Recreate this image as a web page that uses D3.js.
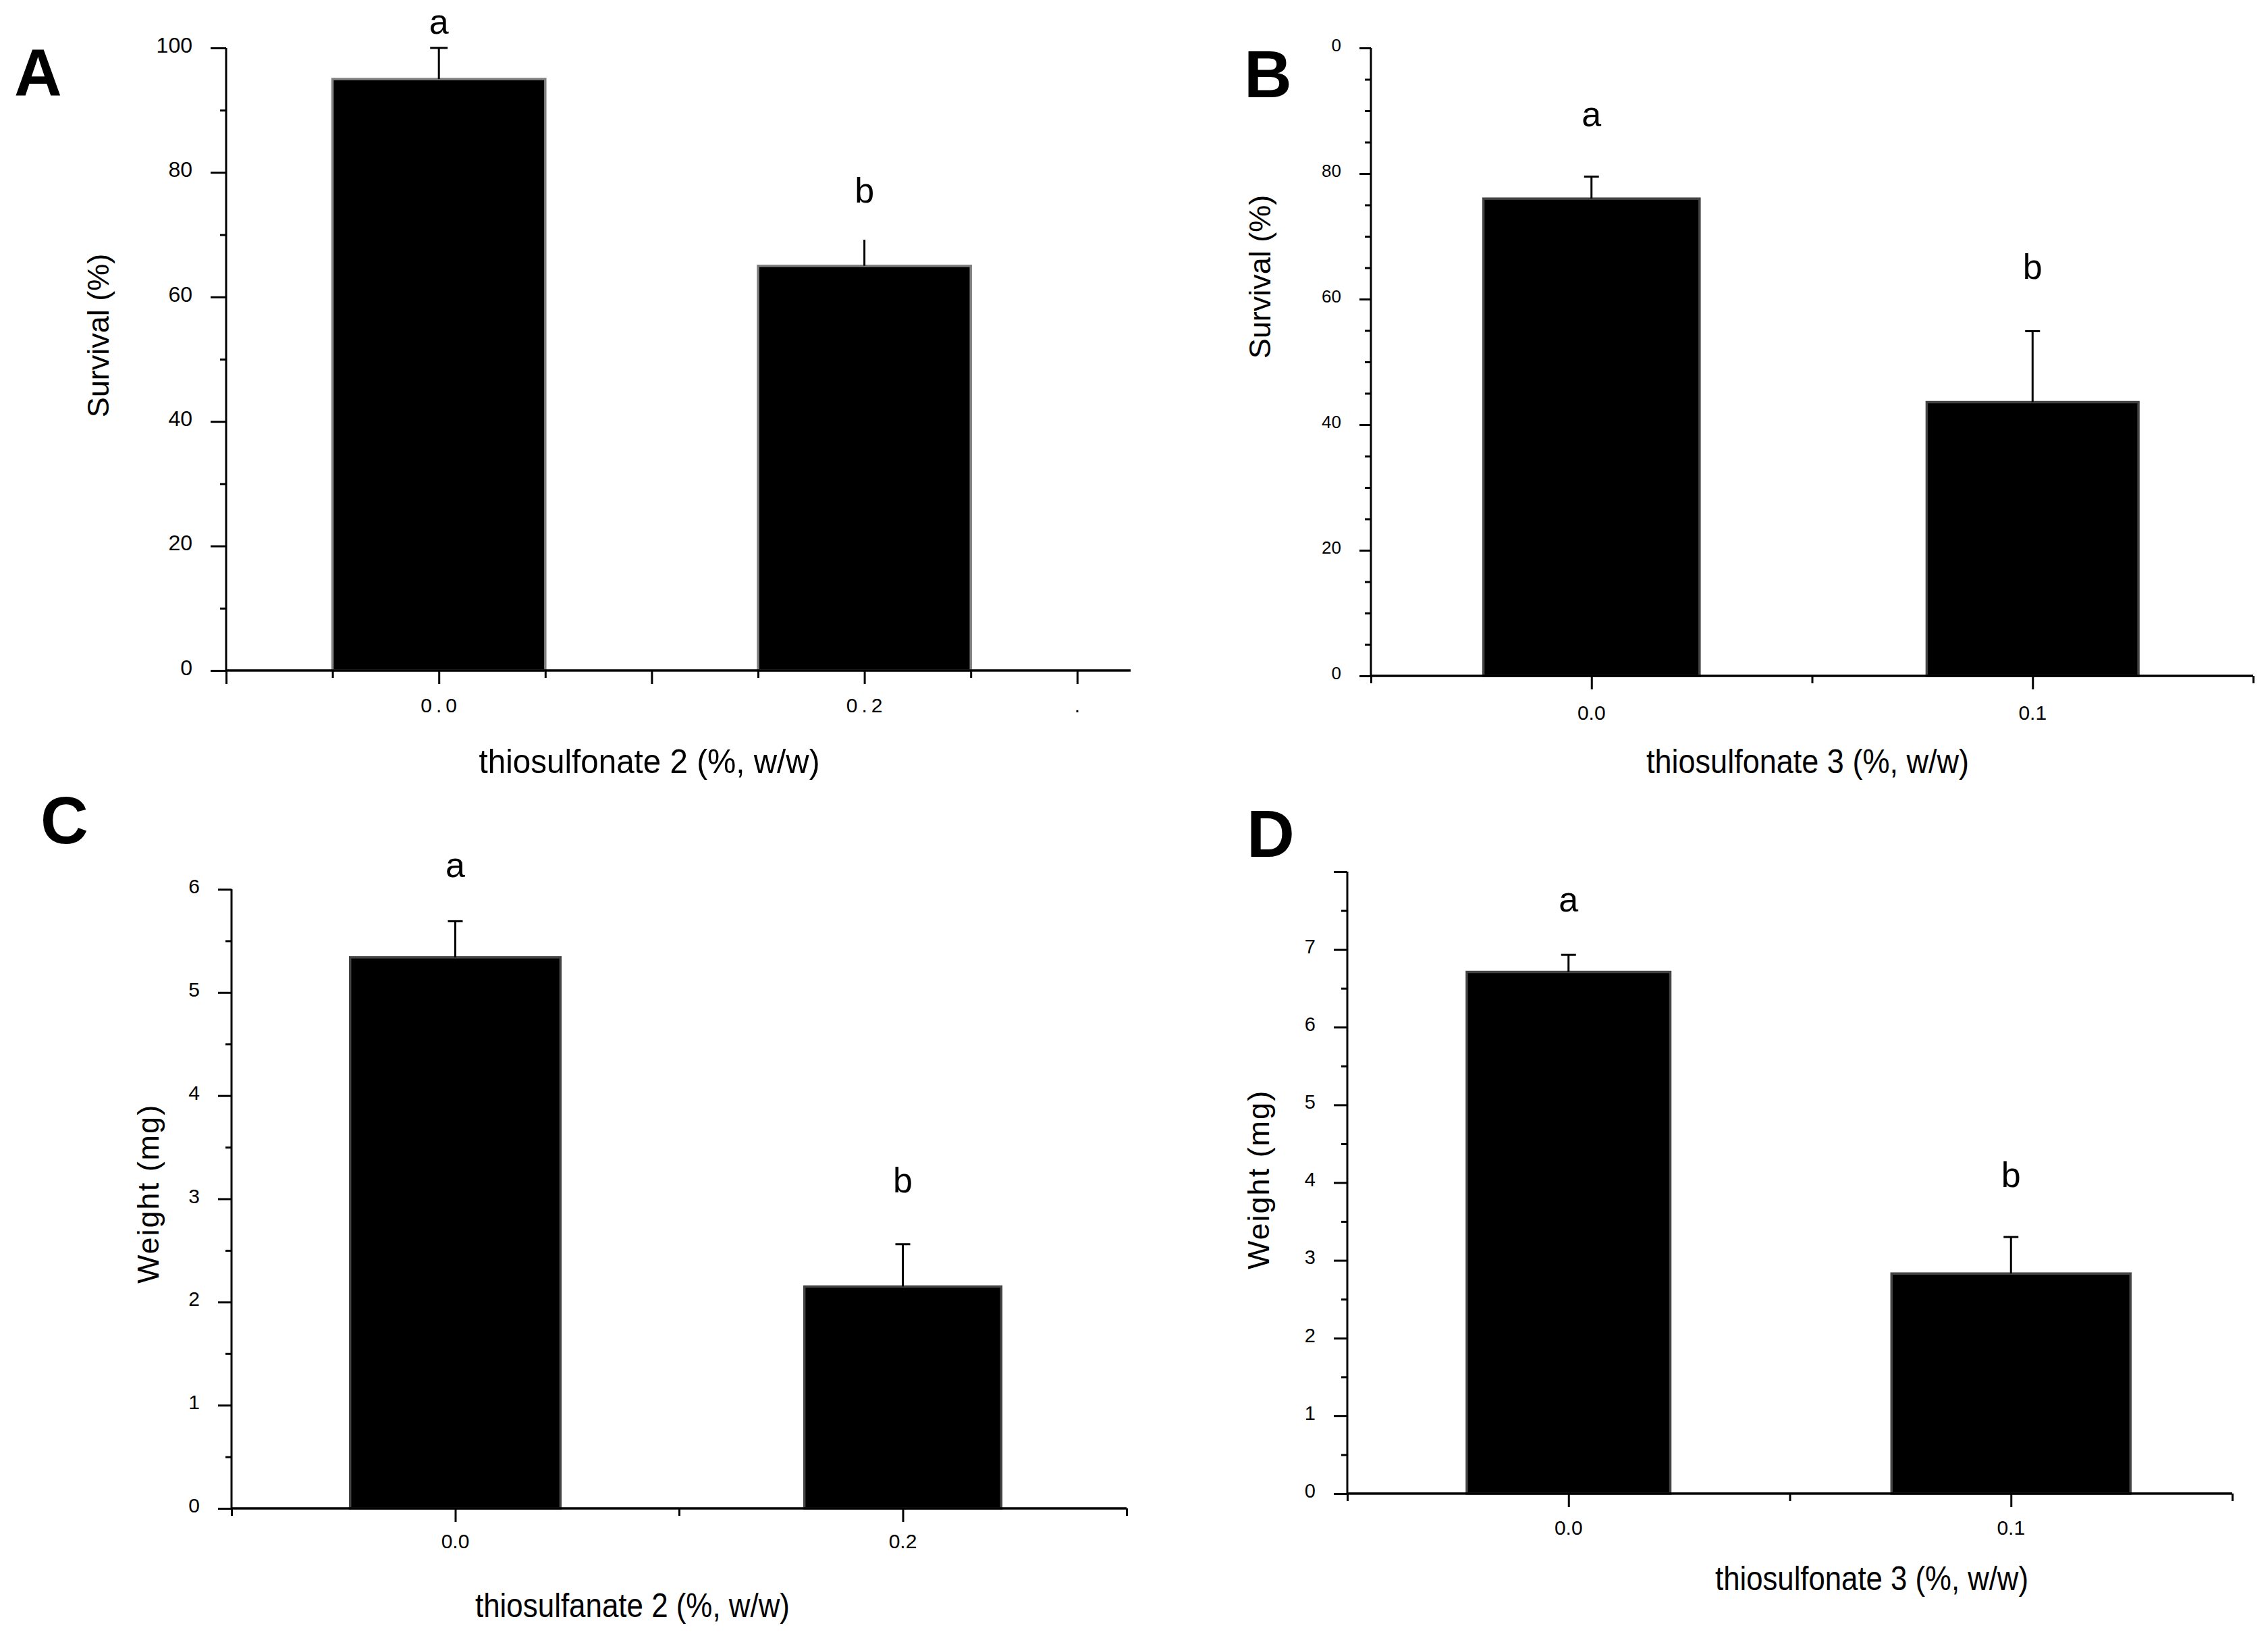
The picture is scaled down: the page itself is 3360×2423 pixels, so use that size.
<!DOCTYPE html>
<html><head><meta charset="utf-8">
<script src="https://cdn.jsdelivr.net/npm/d3@7"></script>
<style>body{margin:0;background:#fff}</style>
</head><body>
<svg id="c" width="3360" height="2423" xmlns="http://www.w3.org/2000/svg"></svg>
<script>
// ---------- data ----------
const categoriesA = ["0.0", "0.2"];
const survivalA = [95, 65];
const survivalErrA = [5, 4.2];
const lettersA = ["a", "b"];
const letterLevelA = [102.3, 75.2];
const yTicksA = [0, 20, 40, 60, 80, 100];
const yTickLabelsA = ["0", "20", "40", "60", "80", "100"];
const xTickLabelsA = ["0.0", "0.2", "."];

const categoriesB = ["0.0", "0.1"];
const survivalB = [76, 43.6];
const survivalErrB = [3.5, 11.3];
const lettersB = ["a", "b"];
const letterLevelB = [87.5, 63.2];
const yTicksB = [0, 20, 40, 60, 80, 100];
const yTickLabelsB = ["0", "20", "40", "60", "80", "0"];
const xTickLabelsB = ["0.0", "0.1"];

const categoriesC = ["0.0", "0.2"];
const weightC = [5.34, 2.15];
const weightErrC = [0.35, 0.41];
const lettersC = ["a", "b"];
const letterLevelC = [6.12, 3.06];
const yTicksC = [0, 1, 2, 3, 4, 5, 6];
const yTickLabelsC = ["0", "1", "2", "3", "4", "5", "6"];
const xTickLabelsC = ["0.0", "0.2"];

const categoriesD = ["0.0", "0.1"];
const weightD = [6.71, 2.83];
const weightErrD = [0.22, 0.47];
const lettersD = ["a", "b"];
const letterLevelD = [7.49, 3.94];
const yTicksD = [0, 1, 2, 3, 4, 5, 6, 7, 8];
const yTickLabelsD = ["0", "1", "2", "3", "4", "5", "6", "7", ""];
const xTickLabelsD = ["0.0", "0.1"];

// ---------- layout ----------
const SANS = "'Liberation Sans',Arial,sans-serif";
const svg = d3.select("#c");

const panels = [
  { tag: "A", tagX: 21, tagY: 141,
    cats: categoriesA, vals: survivalA, errs: survivalErrA, letters: lettersA, letterLv: letterLevelA,
    yTicks: yTicksA, yLabels: yTickLabelsA, minorStep: 10, domain: [0, 100],
    ax: 335, y0: 993, y1: 71, xEnd: 1675, slots: 8.5, slotPx: 157.6,
    catSlots: [2, 6], half: [1.0, 1.0], majorSlots: [0, 2, 4, 6, 8], minorSlots: [1, 3, 5, 7],
    xLabelSlots: [2, 6, 8], xLabels: xTickLabelsA, xLabelY: 1055, xLabelSpacing: 6,
    yTickFont: 32, yTickSize: 23, xTickFont: 30,
    barStroke: "#808080", capW: [26, 0],
    yTitle: "Survival (%)", yTitleX: 145, yTitleY: 497, yTitleSpacing: 0,
    xTitle: "thiosulfonate 2 (%, w/w)", xTitleX: 962, xTitleY: 1145, xTitleLen: 505 },
  { tag: "B", tagX: 1843, tagY: 144,
    cats: categoriesB, vals: survivalB, errs: survivalErrB, letters: lettersB, letterLv: letterLevelB,
    yTicks: yTicksB, yLabels: yTickLabelsB, minorStep: 5, domain: [0, 100],
    ax: 2031, y0: 1001, y1: 71, xEnd: 3338, slots: 4, slotPx: 326.75,
    catSlots: [1, 3], half: [0.49, 0.48], majorSlots: [1, 3], minorSlots: [0, 2, 4],
    xLabelSlots: [1, 3], xLabels: xTickLabelsB, xLabelY: 1066, xLabelSpacing: 0,
    yTickFont: 26, yTickSize: 17, xTickFont: 30,
    barStroke: "#444", capW: [22, 22],
    yTitle: "Survival (%)", yTitleX: 1866, yTitleY: 410, yTitleSpacing: 0,
    xTitle: "thiosulfonate 3 (%, w/w)", xTitleX: 2678, xTitleY: 1145, xTitleLen: 478 },
  { tag: "C", tagX: 60, tagY: 1249,
    cats: categoriesC, vals: weightC, errs: weightErrC, letters: lettersC, letterLv: letterLevelC,
    yTicks: yTicksC, yLabels: yTickLabelsC, minorStep: 0.5, domain: [0, 6],
    ax: 343, y0: 2234, y1: 1317, xEnd: 1669, slots: 4, slotPx: 331.5,
    catSlots: [1, 3], half: [0.47, 0.44], majorSlots: [1, 3], minorSlots: [0, 2, 4],
    xLabelSlots: [1, 3], xLabels: xTickLabelsC, xLabelY: 2293, xLabelSpacing: 0,
    yTickFont: 30, yTickSize: 20, xTickFont: 30,
    barStroke: "#444", capW: [22, 22],
    yTitle: "Weight (mg)", yTitleX: 219, yTitleY: 1768, yTitleSpacing: 2,
    xTitle: "thiosulfanate 2 (%, w/w)", xTitleX: 937, xTitleY: 2395, xTitleLen: 466 },
  { tag: "D", tagX: 1847, tagY: 1269,
    cats: categoriesD, vals: weightD, errs: weightErrD, letters: lettersD, letterLv: letterLevelD,
    yTicks: yTicksD, yLabels: yTickLabelsD, minorStep: 0.5, domain: [0, 8],
    ax: 1996, y0: 2212, y1: 1291, xEnd: 3307, slots: 4, slotPx: 327.75,
    catSlots: [1, 3], half: [0.46, 0.54], majorSlots: [1, 3], minorSlots: [0, 2, 4],
    xLabelSlots: [1, 3], xLabels: xTickLabelsD, xLabelY: 2273, xLabelSpacing: 0,
    yTickFont: 29, yTickSize: 20, xTickFont: 30,
    barStroke: "#444", capW: [22, 22],
    yTitle: "Weight (mg)", yTitleX: 1864, yTitleY: 1747, yTitleSpacing: 2,
    xTitle: "thiosulfonate 3 (%, w/w)", xTitleX: 2773, xTitleY: 2355, xTitleLen: 464 }
];

panels.forEach(p => {
  const g = svg.append("g");
  const y = d3.scaleLinear().domain(p.domain).range([p.y0, p.y1]);
  const x = d3.scaleLinear().domain([0, p.slots]).range([p.ax, p.ax + p.slots * p.slotPx]);

  // bars
  g.selectAll("rect.bar").data(p.vals).join("rect")
    .attr("x", (d, i) => x(p.catSlots[i] - p.half[i]))
    .attr("width", (d, i) => x(p.catSlots[i] + p.half[i]) - x(p.catSlots[i] - p.half[i]))
    .attr("y", d => y(d))
    .attr("height", d => y(0) - y(d))
    .attr("fill", "#000").attr("stroke", p.barStroke).attr("stroke-width", 3.5);

  // error bars + significance letters
  p.vals.forEach((v, i) => {
    const cx = x(p.catSlots[i]);
    g.append("line").attr("x1", cx).attr("x2", cx)
      .attr("y1", y(v)).attr("y2", y(v + p.errs[i]))
      .attr("stroke", "#000").attr("stroke-width", 3);
    if (p.capW[i] > 0) {
      g.append("line").attr("x1", cx - p.capW[i] / 2).attr("x2", cx + p.capW[i] / 2)
        .attr("y1", y(v + p.errs[i])).attr("y2", y(v + p.errs[i]))
        .attr("stroke", "#000").attr("stroke-width", 3);
    }
    g.append("text").attr("x", cx).attr("y", y(p.letterLv[i]))
      .attr("text-anchor", "middle").attr("font-family", SANS).attr("font-size", 52)
      .text(p.letters[i]);
  });

  // y axis (major)
  const yAxis = d3.axisLeft(y).tickValues(p.yTicks).tickSize(p.yTickSize).tickSizeOuter(0).tickPadding(27)
    .tickFormat((d, i) => p.yLabels[i]);
  const ya = g.append("g").attr("transform", `translate(${p.ax},0)`).call(yAxis);
  ya.select(".domain").attr("stroke-width", 3).attr("d", `M0,${p.y0}V${p.y1}`);
  ya.selectAll(".tick line").attr("stroke-width", 3);
  ya.selectAll(".tick text").attr("font-family", SANS).attr("font-size", p.yTickFont)
    .attr("fill", "#000").attr("y", -4);
  // y minor ticks
  const minors = d3.range(p.domain[0] + p.minorStep, p.domain[1], p.minorStep)
    .filter(v => !p.yTicks.some(t => Math.abs(t - v) < 1e-9));
  const yMinor = d3.axisLeft(y).tickValues(minors).tickSize(9).tickSizeOuter(0).tickFormat("");
  const ym = g.append("g").attr("transform", `translate(${p.ax},0)`).call(yMinor);
  ym.select(".domain").remove();
  ym.selectAll(".tick line").attr("stroke-width", 3);

  // x axis
  const xMajor = d3.axisBottom(x).tickValues(p.majorSlots).tickSize(20).tickSizeOuter(0).tickFormat("");
  const xa = g.append("g").attr("transform", `translate(0,${p.y0})`).call(xMajor);
  xa.select(".domain").attr("stroke-width", 3.5).attr("d", `M${p.ax},0H${p.xEnd}`);
  xa.selectAll(".tick line").attr("stroke-width", 3);
  const xMinor = d3.axisBottom(x).tickValues(p.minorSlots).tickSize(11).tickSizeOuter(0).tickFormat("");
  const xm = g.append("g").attr("transform", `translate(0,${p.y0})`).call(xMinor);
  xm.select(".domain").remove();
  xm.selectAll(".tick line").attr("stroke-width", 3);

  // x tick labels
  g.selectAll("text.xl").data(p.xLabels).join("text")
    .attr("x", (d, i) => x(p.xLabelSlots[i]) + p.xLabelSpacing / 2).attr("y", p.xLabelY)
    .attr("text-anchor", "middle").attr("font-family", SANS).attr("font-size", p.xTickFont)
    .attr("letter-spacing", p.xLabelSpacing)
    .text(d => d);

  // titles
  g.append("text").attr("transform", `translate(${p.yTitleX},${p.yTitleY}) rotate(-90)`)
    .attr("text-anchor", "middle").attr("dominant-baseline", "central")
    .attr("font-family", SANS).attr("font-size", 45).attr("letter-spacing", p.yTitleSpacing)
    .text(p.yTitle);
  g.append("text").attr("x", p.xTitleX).attr("y", p.xTitleY)
    .attr("text-anchor", "middle").attr("font-family", SANS).attr("font-size", 50)
    .attr("textLength", p.xTitleLen).attr("lengthAdjust", "spacingAndGlyphs")
    .text(p.xTitle);
  g.append("text").attr("x", p.tagX).attr("y", p.tagY)
    .attr("font-family", SANS).attr("font-weight", "bold").attr("font-size", 98).text(p.tag);
});
</script>
</body></html>
